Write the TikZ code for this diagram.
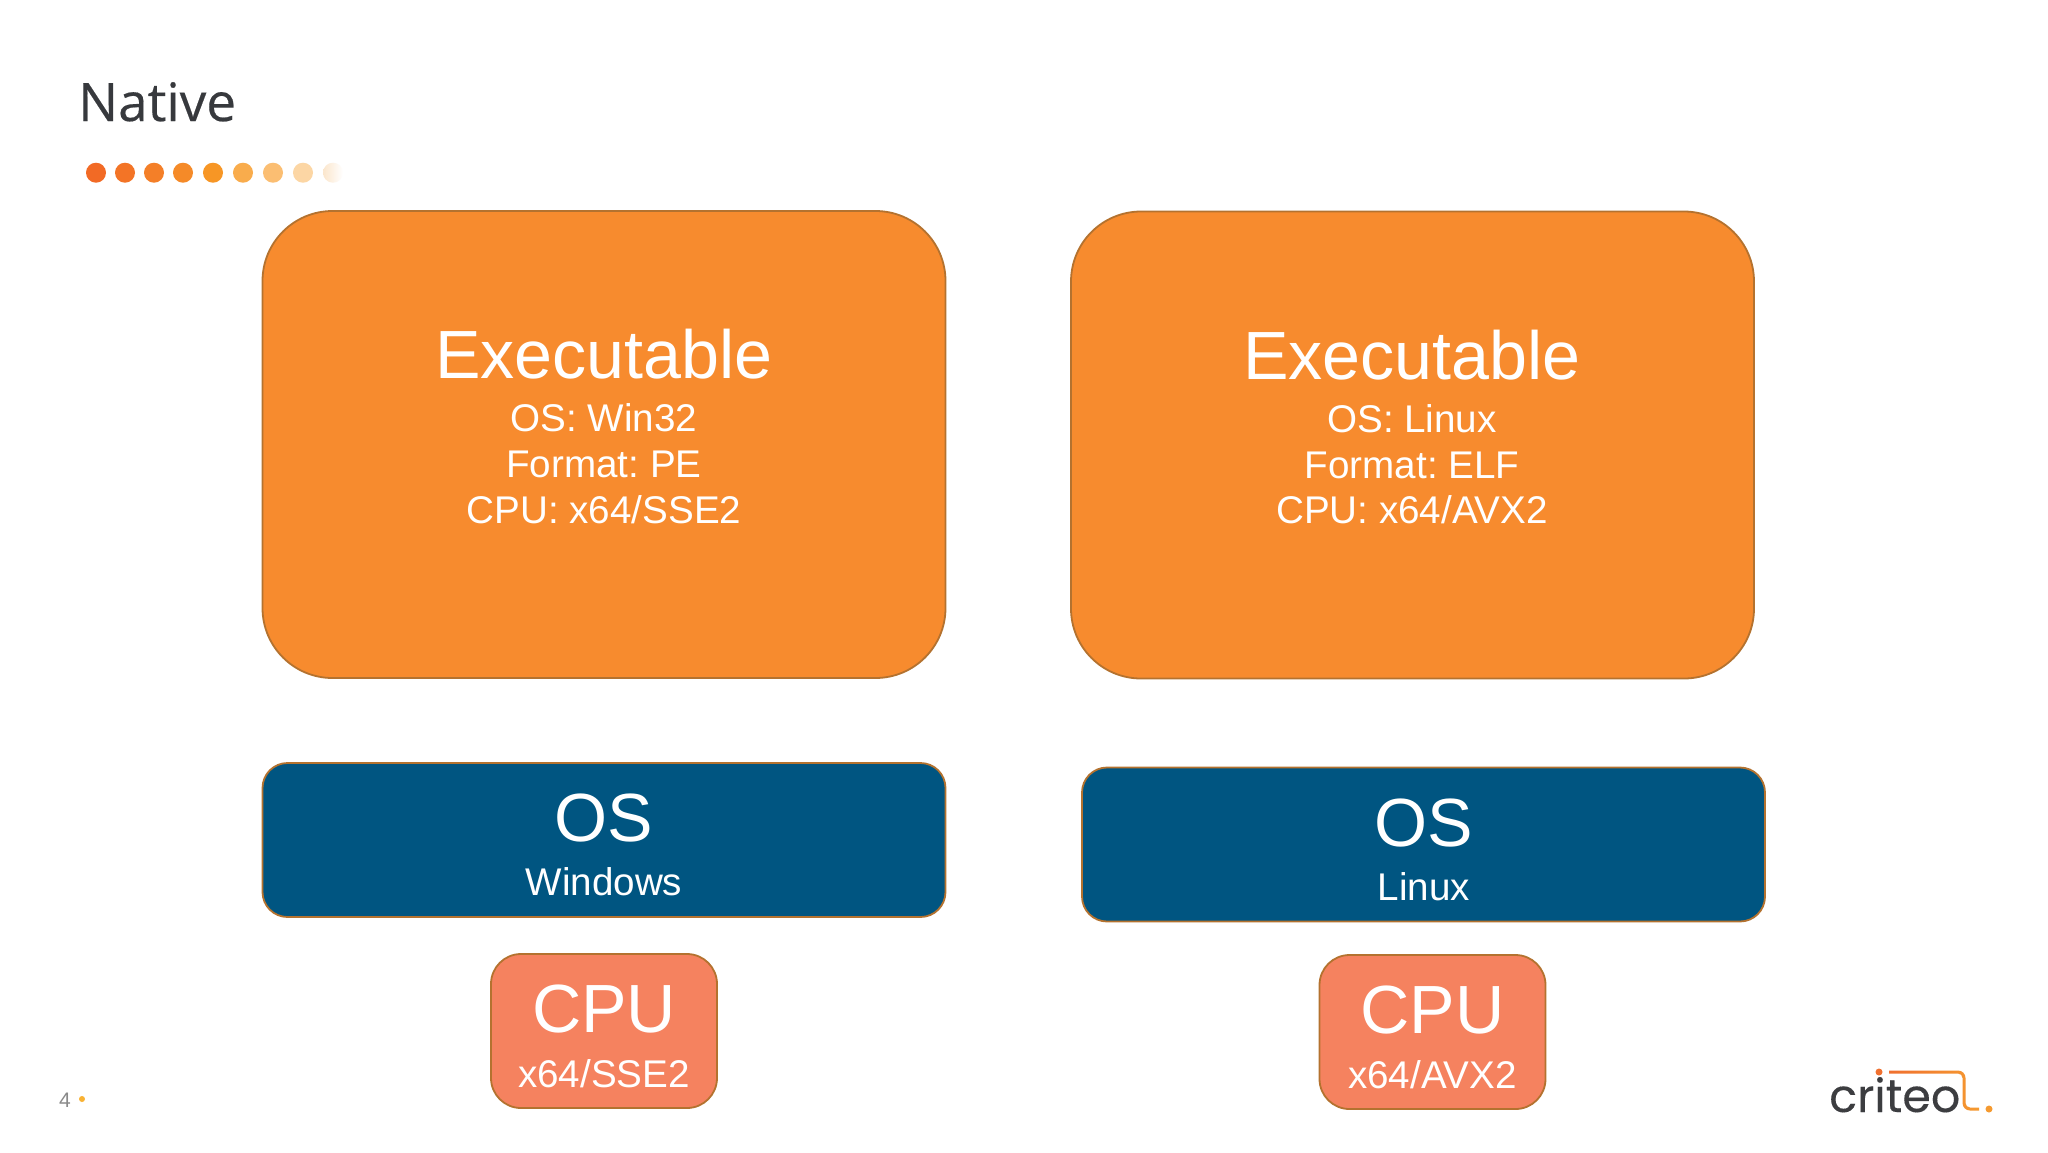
\documentclass[tikz,border=0pt]{standalone}
\usepackage{fontspec}
\setmainfont{Liberation Sans}
\newfontfamily\titlefont[FakeBold=0.35]{Open Sans}
\newfontfamily\logofont[FakeBold=0.25]{Poppins}
\definecolor{exefill}{HTML}{F78B2E}
\definecolor{osfill}{HTML}{005581}
\definecolor{cpufill}{HTML}{F5825F}
\definecolor{edge}{HTML}{B4722F}
\definecolor{titleink}{HTML}{37393D}
\definecolor{logoink}{HTML}{3C3D40}
\definecolor{pageink}{HTML}{8A8A8A}
\definecolor{pagedot}{HTML}{F9B233}
\definecolor{logoA}{HTML}{F0702F}
\definecolor{logoB}{HTML}{F59A30}
\tikzset{
  x=1pt,y=-1pt,
  card/.style={draw=edge,line width=1.8pt,inner sep=0pt,outer sep=0pt,anchor=north west},
  execard/.style={card,fill=exefill,rounded corners=70pt,minimum width=683pt,minimum height=467pt},
  oscard/.style={card,fill=osfill,rounded corners=25pt,minimum width=683pt,minimum height=154pt},
  cpucard/.style={card,fill=cpufill,rounded corners=30pt,minimum width=226pt,minimum height=154pt},
  big/.style={text=white,anchor=base,inner sep=0pt,font=\frenchspacing\fontsize{68.2}{68}\selectfont},
  small/.style={text=white,anchor=base,inner sep=0pt,font=\frenchspacing\fontsize{38.6}{40}\selectfont},
}
\begin{document}
\begin{tikzpicture}
\useasboundingbox (0,0) rectangle (2048,1152);
\fill[white] (0,0) rectangle (2048,1152);
\node[anchor=base west,inner sep=0pt,text=titleink,font=\titlefont\fontsize{53}{56}\selectfont] (title) at (78,121) {Native};
% dots
\foreach \n/\cx/\col in {1/96/F26A25,2/125/F37426,3/154/F47F28,4/183/F58A28,5/213/F79625,6/243/F9AC4C,7/273/FBBE72,8/303/FCD6A4}{
  \definecolor{dotc}{HTML}{\col}
  \node[circle,fill=dotc,inner sep=0pt,minimum size=20pt] (dot\n) at (\cx,172.7) {};
}
\definecolor{fadeA}{HTML}{FBE6CC}
\node[circle,left color=fadeA,right color=white,inner sep=0pt,minimum size=20pt] (dot9) at (333,172.7) {};
% left column
\node[execard] (exeA) at (262.5,211) {};
\node[big] (exeAt) at (604,378) {Executable};
\node[small] (exeAa) at (604,431) {OS: Win32};
\node[small] (exeAb) at (604,477) {Format: PE};
\node[small] (exeAc) at (604,523) {CPU: x64/SSE2};
\node[oscard] (osA) at (262.5,763) {};
\node[big] (osAt) at (604,841) {OS};
\node[small] (osAa) at (604,895) {Windows};
\node[cpucard] (cpuA) at (491,954) {};
\node[big] (cpuAt) at (604,1032) {CPU};
\node[small] (cpuAa) at (604,1087) {x64/SSE2};
% right column
\node[execard] (exeB) at (1071,211.5) {};
\node[big] (exeBt) at (1412,379) {Executable};
\node[small] (exeBa) at (1412,432) {OS: Linux};
\node[small] (exeBb) at (1412,478) {Format: ELF};
\node[small] (exeBc) at (1412,523) {CPU: x64/AVX2};
\node[oscard] (osB) at (1082,767.5) {};
\node[big] (osBt) at (1424,846) {OS};
\node[small] (osBa) at (1424,900) {Linux};
\node[cpucard] (cpuB) at (1319.5,955) {};
\node[big] (cpuBt) at (1432.5,1033) {CPU};
\node[small] (cpuBa) at (1432.5,1088) {x64/AVX2};
% page number
\node[anchor=base west,inner sep=0pt,text=pageink,font=\fontsize{21}{21}\selectfont] (page) at (59,1107) {4};
\node[circle,fill=pagedot,inner sep=0pt,minimum size=6pt] (pagedotn) at (82,1099) {};
% logo
\node[anchor=base west,inner sep=0pt,text=logoink,font=\logofont\fontsize{46}{46}\selectfont] (logo) at (1829,1112) {criteo};
\node[circle,fill=logoA,inner sep=0pt,minimum size=7pt] (logoi) at (1879,1072) {};
\shade[left color=logoA,right color=logoB] (1889,1070.5) -- (1958,1070.5) arc[start angle=90,end angle=0,radius=7.5pt] -- (1965.5,1103) arc[start angle=180,end angle=270,radius=4.5pt] -- (1979,1107.5) -- (1979,1110.5) -- (1970,1110.5) arc[start angle=270,end angle=180,radius=7.5pt] -- (1962.5,1078) arc[start angle=0,end angle=90,radius=4.5pt] -- (1889,1073.5) -- cycle;
\node[circle,fill=logoB,inner sep=0pt,minimum size=7pt] (logod) at (1989,1109) {};
\end{tikzpicture}
\end{document}
